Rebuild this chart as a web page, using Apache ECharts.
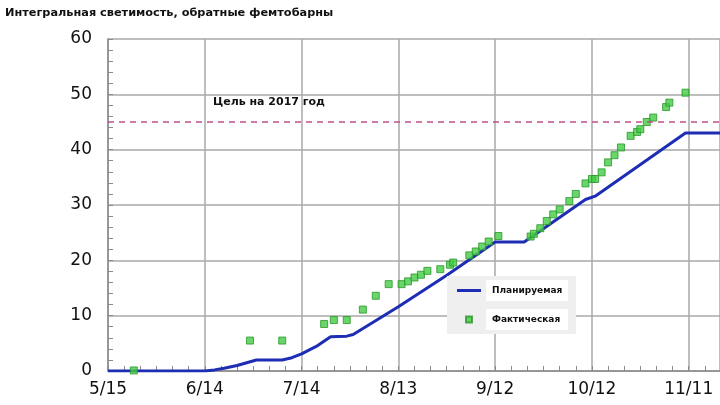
<!DOCTYPE html>
<html>
<head>
<meta charset="utf-8">
<script src="https://cdn.jsdelivr.net/npm/echarts@6/dist/echarts.min.js"></script>
<style>html,body{margin:0;padding:0;background:#fff;}#c{width:720px;height:405px;}</style>
</head>
<body>
<div id="c"></div>
<script>
// Planned integrated luminosity (line)
const planDates = ['5/15','6/14','6/17','6/20','6/24','6/27','6/30','7/8','7/11','7/14','7/19','7/23','7/28','7/30','8/13','8/28','9/12','9/21','10/10','10/13','11/10','12/11'];
const planValues = [0,0,0.2,0.5,1.0,1.5,2.0,2.0,2.4,3.1,4.6,6.2,6.3,6.6,11.6,17.3,23.3,23.3,31.0,31.6,43.0,43.0];
// Actual integrated luminosity (points)
const actDates = ['5/23','6/28','7/8','7/21','7/24','7/28','8/2','8/6','8/10','8/14','8/16','8/18','8/20','8/22','8/26','8/29','8/30','9/4','9/6','9/8','9/10','9/13','9/23','9/24','9/26','9/28','9/30','10/2','10/5','10/7','10/10','10/12','10/13','10/15','10/17','10/19','10/21','10/24','10/26','10/27','10/29','10/31','11/4','11/5','11/10'];
const actValues = [0.1,5.5,5.5,8.5,9.2,9.2,11.1,13.6,15.7,15.7,16.2,16.9,17.4,18.1,18.4,19.2,19.6,20.9,21.6,22.5,23.4,24.4,24.3,24.8,25.8,27.1,28.3,29.2,30.7,32.0,33.9,34.7,34.7,35.9,37.7,39.0,40.4,42.5,43.2,43.7,45.0,45.8,47.7,48.5,50.3];
const goalValue = 45;
const xRangeDays = [0, 189.7]; // axis range in days from 5/15
const yTicks = [0, 60];

const title = 'Интегральная светимость, обратные фемтобарны';
const goalLabel = 'Цель на 2017 год';
const seriesNames = ['Планируемая', 'Фактическая'];

const START = Date.UTC(2017, 4, 15);
function dayOf(s) { const p = s.split('/').map(Number); return (Date.UTC(2017, p[0] - 1, p[1]) - START) / 86400000; }
function labelOf(v) { const d = new Date(START + v * 86400000); return (d.getUTCMonth() + 1) + '/' + d.getUTCDate(); }

const planData = planDates.map((d, i) => [dayOf(d), planValues[i]]);
const actData = actDates.map((d, i) => [dayOf(d), actValues[i]]);

const chart = echarts.init(document.getElementById('c'));
const axisFont = { fontFamily: 'DejaVu Sans', fontSize: 17, color: '#111' };
const gray = '#8a8a8a';
chart.setOption({
  animation: false,
  backgroundColor: '#fff',
  title: {
    text: title, left: 5, top: 8, padding: 0,
    textStyle: { fontFamily: 'DejaVu Sans', fontWeight: 'bold', fontSize: 11.3, color: '#111' }
  },
  grid: { left: 108, top: 39, right: 0, height: 332, containLabel: false },
  legend: {
    orient: 'vertical', left: 447, top: 276,
    backgroundColor: '#efefef', padding: [4, 8, 4, 9],
    itemWidth: 24, itemHeight: 8, itemGap: 8,
    data: [
      { name: seriesNames[0], icon: 'path://M0,0L0,0M0,2.5L24,2.5L24,5.5L0,5.5ZM24,8L24,8' },
      { name: seriesNames[1], icon: 'path://M0,0L0,0M9,1L15,1L15,7L9,7ZM24,8L24,8' }
    ],
    textStyle: { fontFamily: 'DejaVu Sans', fontWeight: 'bold', fontSize: 9, color: '#111',
      backgroundColor: '#fff', padding: [6, 6], width: 70, lineHeight: 9 }
  },
  xAxis: [{
    type: 'value', min: xRangeDays[0], max: xRangeDays[1], interval: 30,
    axisLine: { show: true, lineStyle: { color: gray, width: 1.5 } },
    axisTick: { show: false },
    splitLine: { show: true, lineStyle: { color: '#a8a8a8', width: 1.5 } },
    axisLabel: Object.assign({ margin: 10, formatter: labelOf, showMaxLabel: false }, axisFont)
  }, {
    type: 'value', position: 'bottom', min: xRangeDays[0], max: xRangeDays[1], interval: 5,
    axisLine: { show: false },
    axisTick: { show: true, inside: true, length: 5, lineStyle: { color: gray, width: 1 } },
    splitLine: { show: false },
    axisLabel: { show: false }
  }],
  yAxis: {
    type: 'value', min: yTicks[0], max: yTicks[1], interval: 10,
    axisLine: { show: true, lineStyle: { color: gray, width: 1.5 } },
    axisTick: { show: true, inside: true, length: 5, lineStyle: { color: gray } },
    minorTick: { show: true, splitNumber: 5, length: 5, lineStyle: { color: gray, width: 1 } },
    splitLine: { show: true, lineStyle: { color: '#a8a8a8', width: 1.5 } },
    axisLabel: Object.assign({ margin: 16 }, axisFont)
  },
  series: [
    {
      name: seriesNames[0], type: 'line', data: planData, symbol: 'none', showSymbol: false,
      lineStyle: { color: '#1d2db4', width: 3 }, itemStyle: { color: '#1d2db4' },
      z: 3,
      markLine: {
        silent: true, symbol: 'none',
        lineStyle: { color: '#c0508f', width: 1.5, type: [6, 5] },
        label: { show: false },
        data: [{ yAxis: goalValue }]
      }
    },
    {
      name: seriesNames[1], type: 'scatter', data: actData, symbol: 'rect', symbolSize: 7,
      itemStyle: { color: '#44cc44', borderColor: '#2a962a', borderWidth: 1 },
      z: 4
    }
  ],
  graphic: [{
    type: 'text', left: 213, top: 97,
    style: { text: goalLabel, fontFamily: 'DejaVu Sans', fontWeight: 'bold', fontSize: 11, fill: '#111' }
  }]
});
</script>
</body>
</html>
